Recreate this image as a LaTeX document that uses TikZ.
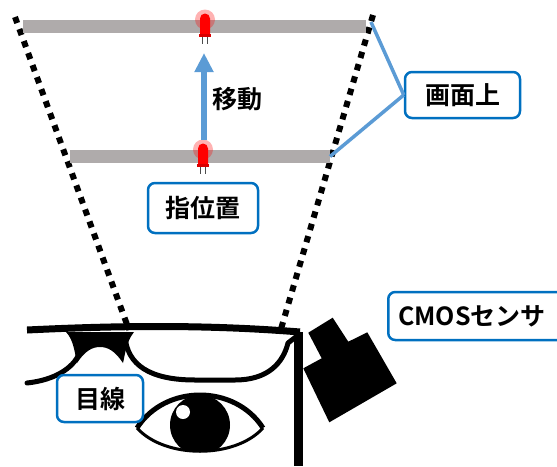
\documentclass[tikz,border=0pt]{standalone}
\usepackage{fontspec}
\setmainfont{Noto Sans CJK JP}[BoldFont={Noto Sans CJK JP Bold}]
\usetikzlibrary{arrows.meta,positioning,calc}
\definecolor{boxblue}{HTML}{0070C0}
\definecolor{lineblue}{HTML}{5B9BD5}
\definecolor{bargray}{HTML}{AFABAB}

% small red LED sitting on a bar, #1 = coordinate of the lamp
\newcommand{\ledlamp}[1]{%
  \fill[red, opacity=0.3] ($(#1)+(0,-7)$) circle (10pt);
  \draw[black!70, line width=0.9pt] ($(#1)+(-2.5,9)$) -- ++(0,8) ($(#1)+(2.5,9)$) -- ++(0,8);
  \fill[red] ($(#1)+(-5,8)$) -- ($(#1)+(-5,-8)$) arc[start angle=180, end angle=0, radius=5pt] -- ($(#1)+(5,8)$) -- cycle;
  \fill[red!85!black] ($(#1)+(-6,7)$) rectangle ($(#1)+(6,10)$);
}

\begin{document}
\begin{tikzpicture}[x=1pt, y=-1pt, line join=round]
    \tikzset{
        labelbox/.style={draw=boxblue, fill=white, line width=2.5pt, rounded corners=7pt, inner sep=0pt, font=\fontsize{25}{29}\selectfont\bfseries},
        plaintext/.style={inner sep=0pt, font=\fontsize{25}{29}\selectfont\bfseries},
        viewline/.style={line width=6pt, dash pattern=on 6.4pt off 6.4pt},
        bar/.style={draw=bargray, line width=13pt},
        callout/.style={draw=lineblue, line width=3.5pt},
        glass/.style={draw, line width=5pt, line cap=round}
    }
    \useasboundingbox (0,0) rectangle (557,466);

    % field of view of the sensor
    \coordinate (fovLtop) at (15,17);
    \coordinate (fovLbot) at (129,330);
    \coordinate (fovRtop) at (373,15);
    \coordinate (fovRbot) at (281,329);
    \draw[viewline] (fovLtop) -- (fovLbot);
    \draw[viewline] (fovRtop) -- (fovRbot);

    % the two screen positions
    \coordinate (topL) at (23,26.5);
    \coordinate (topR) at (366,26.5);
    \coordinate (lowL) at (70,156.5);
    \coordinate (lowR) at (330,156.5);
    \coordinate (topTip) at (371,22);
    \draw[bar] (topL) -- (topR);
    \draw[bar] (lowL) -- (lowR);
    \coordinate (ledTop) at (205,26.5);
    \coordinate (ledLow) at (203,156.5);
    \ledlamp{ledTop}
    \ledlamp{ledLow}

    % movement of the finger
    \coordinate (moveFrom) at (204,140);
    \coordinate (moveTo) at (204,53);
    \draw[lineblue, line width=6pt, -{Triangle[width=18pt, length=19pt]}] (moveFrom) -- (moveTo);
    \node[plaintext] (move) at (237,99) {移動};

    \node[labelbox, minimum width=110pt, minimum height=50pt] (finger) at (203,208) {指位置};
    \node[labelbox, minimum width=115pt, minimum height=46pt] (screen) at (462.5,95) {画面上};
    \path[callout] (screen.west) -- (topTip);
    \path[callout] (screen.west) -- (lowR);

    % glasses
    \draw[line width=7pt] (27,330) .. controls (110,326) and (200,324) .. (300,332);
    \fill (66,332) .. controls (74,340) and (75,355) .. (77,363) .. controls (85,351) and (92,347) .. (100,347)
          .. controls (108,347) and (115,351) .. (123,363) .. controls (125,355) and (126,342) .. (134,332) -- cycle;
    \draw[glass] (27,383) .. controls (55,380) and (73,368) .. (79,354);
    \draw[glass] (125,336) .. controls (127,365) and (150,380) .. (195,380) -- (235,380)
          .. controls (268,380) and (283,363) .. (288,343) -- (297,336);
    \fill (294,332) rectangle (303,466);

    % sensor on the temple
    \fill (308.3,332.7) -- (332.7,317.7) -- (348.3,341.7) -- (367.3,332.3) -- (396.7,383.3)
          -- (329.3,422.3) -- (303.3,368.3) -- (321.7,358.3) -- cycle;
    \node[labelbox, anchor=west, minimum height=48pt, inner xsep=10pt] (sensor) at (387,316) {CMOSセンサ\hspace*{30pt}};

    % eye
    \begin{scope}
        \clip (137,428) .. controls (165,384) and (235,384) .. (263,428) .. controls (235,459) and (165,459) .. (137,428);
        \fill (200,425) circle (30pt);
    \end{scope}
    \fill[white] (183,412) circle (7pt);
    \draw[line width=5pt] (137,428) .. controls (165,384) and (235,384) .. (263,428);
    \draw[line width=3pt] (263,428) .. controls (235,459) and (165,459) .. (137,428);

    \node[labelbox, minimum width=86pt, minimum height=47pt] (gaze) at (100,398.5) {目線};
\end{tikzpicture}
\end{document}
